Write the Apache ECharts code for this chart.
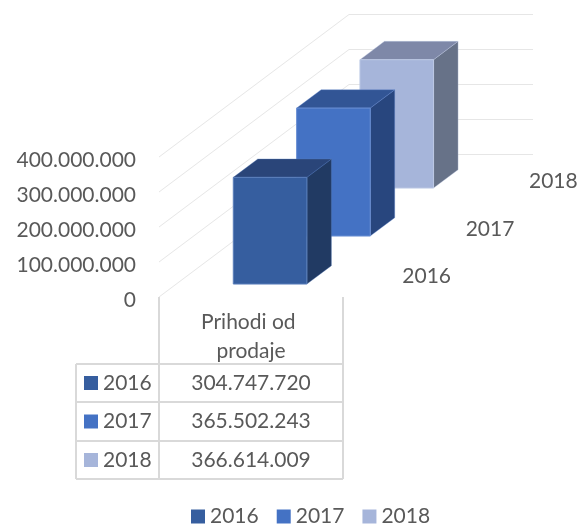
<!DOCTYPE html>
<html>
<head>
<meta charset="utf-8">
<style>html,body{margin:0;padding:0;background:#fff}#c{width:582px;height:524px}</style>
<script src="https://cdn.jsdelivr.net/npm/echarts@6/dist/echarts.min.js"></script>
</head>
<body>
<div id="c"></div>
<script>
var categories = ['Prihodi od prodaje'];
var years = ['2016', '2017', '2018'];
var values2016 = [304747720];
var values2017 = [365502243];
var values2018 = [366614009];
var tickValues = [0, 100000000, 200000000, 300000000, 400000000];

var FONT = 'Lato, Carlito, "Open Sans", sans-serif';
var FS = 21;
var TEXT = '#595959';
var LINE = '#d9d9d9';
var DEPTH = [190, -142.5];
var BACK_W = 184;
var FRONT = ['#365e9f', '#4472c4', '#a6b5da'];
var TOP = ['#2a4579', '#325595', '#7e88a8'];
var SIDE = ['#213a63', '#28467e', '#677288'];
var EDGE = ['#5b7fbb', '#6a8fd4', '#bcc8e4'];
var valuesByYear = [values2016, values2017, values2018];

function fmt(v) { return String(v).replace(/\B(?=(\d{3})+$)/g, '.'); }

function wallItem(params, api) {
  var v = api.value(0);
  var p = api.coord([0, v]);
  var band = api.size([1, 0])[0];
  var x0 = p[0] - band / 2, y0 = p[1];
  return {
    type: 'polyline',
    shape: { points: [[x0, y0], [x0 + DEPTH[0], y0 + DEPTH[1]], [x0 + DEPTH[0] + BACK_W, y0 + DEPTH[1]]] },
    style: { fill: 'none', stroke: '#e6e6e6', lineWidth: 1 },
    silent: true
  };
}

function barSeries(i) {
  return {
    name: years[i],
    type: 'custom',
    coordinateSystem: 'cartesian2d',
    itemStyle: { color: FRONT[i] },
    data: valuesByYear[i].map(function (v, k) { return [k, v]; }),
    encode: { x: 0, y: 1 },
    z: 5 + (2 - i),
    clip: false,
    renderItem: function (params, api) {
      var cx = api.coord([api.value(0), 0])[0];
      var y0 = api.coord([0, 0])[1];
      var y1 = api.coord([0, api.value(1)])[1];
      var band = api.size([1, 0])[0];
      var w = band * 0.4;
      var dStart = (i + 0.273) / 3, dLen = 0.129;
      var ox = DEPTH[0] * dStart + 1.8, oy = DEPTH[1] * dStart - 0.5 * i;
      var dx = DEPTH[0] * dLen, dy = DEPTH[1] * dLen;
      var xl = cx - w / 2 + ox, xr = cx + w / 2 + ox;
      var yb = y0 + oy, yt = y1 + oy;
      var labelX = cx + band / 2 + DEPTH[0] * (i + 0.5) / 3 + 52;
      var labelY = y0 + DEPTH[1] * (i + 0.5) / 3 + 3;
      return {
        type: 'group',
        children: [
          { type: 'polygon', shape: { points: [[xr, yb], [xr + dx, yb + dy], [xr + dx, yt + dy], [xr, yt]] },
            style: { fill: SIDE[i], stroke: EDGE[i], lineWidth: 0.6, strokeOpacity: 0.6 } },
          { type: 'polygon', shape: { points: [[xl, yt], [xr, yt], [xr + dx, yt + dy], [xl + dx, yt + dy]] },
            style: { fill: TOP[i], stroke: EDGE[i], lineWidth: 0.6, strokeOpacity: 0.6 } },
          { type: 'rect', shape: { x: xl, y: yt, width: w, height: yb - yt },
            style: { fill: FRONT[i], stroke: EDGE[i], lineWidth: 1 } },
          { type: 'text', style: { text: years[i], x: labelX, y: labelY, align: 'center', verticalAlign: 'middle',
            fontFamily: FONT, fontSize: FS, fill: TEXT } }
        ]
      };
    }
  };
}

// data table, built from the arrays
var T = { l: 76, m: 159, r: 343, rows: [364, 402, 441, 479], top: 297 };
var tableEls = [];
function seg(x1, y1, x2, y2) {
  tableEls.push({ type: 'line', shape: { x1: x1, y1: y1, x2: x2, y2: y2 }, style: { stroke: LINE, lineWidth: 2 }, silent: true });
}
seg(T.m, T.top, T.m, T.rows[3]);
seg(T.r, T.top, T.r, T.rows[3]);
seg(T.l, T.rows[0], T.l, T.rows[3]);
T.rows.forEach(function (y) { seg(T.l, y, T.r, y); });
years.forEach(function (yr, i) {
  var cy = (T.rows[i] + T.rows[i + 1]) / 2;
  tableEls.push({ type: 'rect', shape: { x: 84, y: cy - 7, width: 14, height: 14 }, style: { fill: FRONT[i] } });
  tableEls.push({ type: 'text', style: { text: yr, x: 103, y: cy, verticalAlign: 'middle', fontFamily: FONT, fontSize: FS, fill: TEXT } });
  tableEls.push({ type: 'text', style: { text: fmt(valuesByYear[i][0]), x: (T.m + T.r) / 2, y: cy, align: 'center', verticalAlign: 'middle', fontFamily: FONT, fontSize: FS, fill: TEXT } });
});

var chart = echarts.init(document.getElementById('c'), null, { renderer: 'canvas' });
chart.setOption({
  animation: false,
  backgroundColor: '#fff',
  grid: { left: 159, top: 157, width: 184, height: 140, containLabel: false },
  xAxis: {
    type: 'category', data: categories,
    axisLine: { show: false }, axisTick: { show: false },
    axisLabel: { color: TEXT, fontFamily: FONT, fontSize: FS, lineHeight: 29, width: 120, overflow: 'break', margin: 11 }
  },
  yAxis: {
    type: 'value', min: 0, max: 400000000, interval: 100000000,
    axisLine: { show: false }, axisTick: { show: false }, splitLine: { show: false },
    axisLabel: {
      color: TEXT, fontFamily: FONT, fontSize: FS, margin: 23,
      formatter: function (v) { return '{a|' + fmt(v) + '}'; },
      rich: { a: { color: TEXT, fontFamily: FONT, fontSize: FS, padding: [6, 0, 0, 0] } }
    }
  },
  legend: {
    data: years, left: 191, top: 506, padding: 0, itemWidth: 14, itemHeight: 14, itemGap: 18, icon: 'rect',
    textStyle: { color: TEXT, fontFamily: FONT, fontSize: FS }
  },
  graphic: { elements: tableEls },
  series: [{
    type: 'custom', name: 'walls', silent: true, z: 1, clip: false,
    data: tickValues.map(function (v) { return [v]; }),
    encode: { y: 0 },
    renderItem: wallItem
  }].concat([2, 1, 0].map(barSeries))
});
</script>
</body>
</html>
